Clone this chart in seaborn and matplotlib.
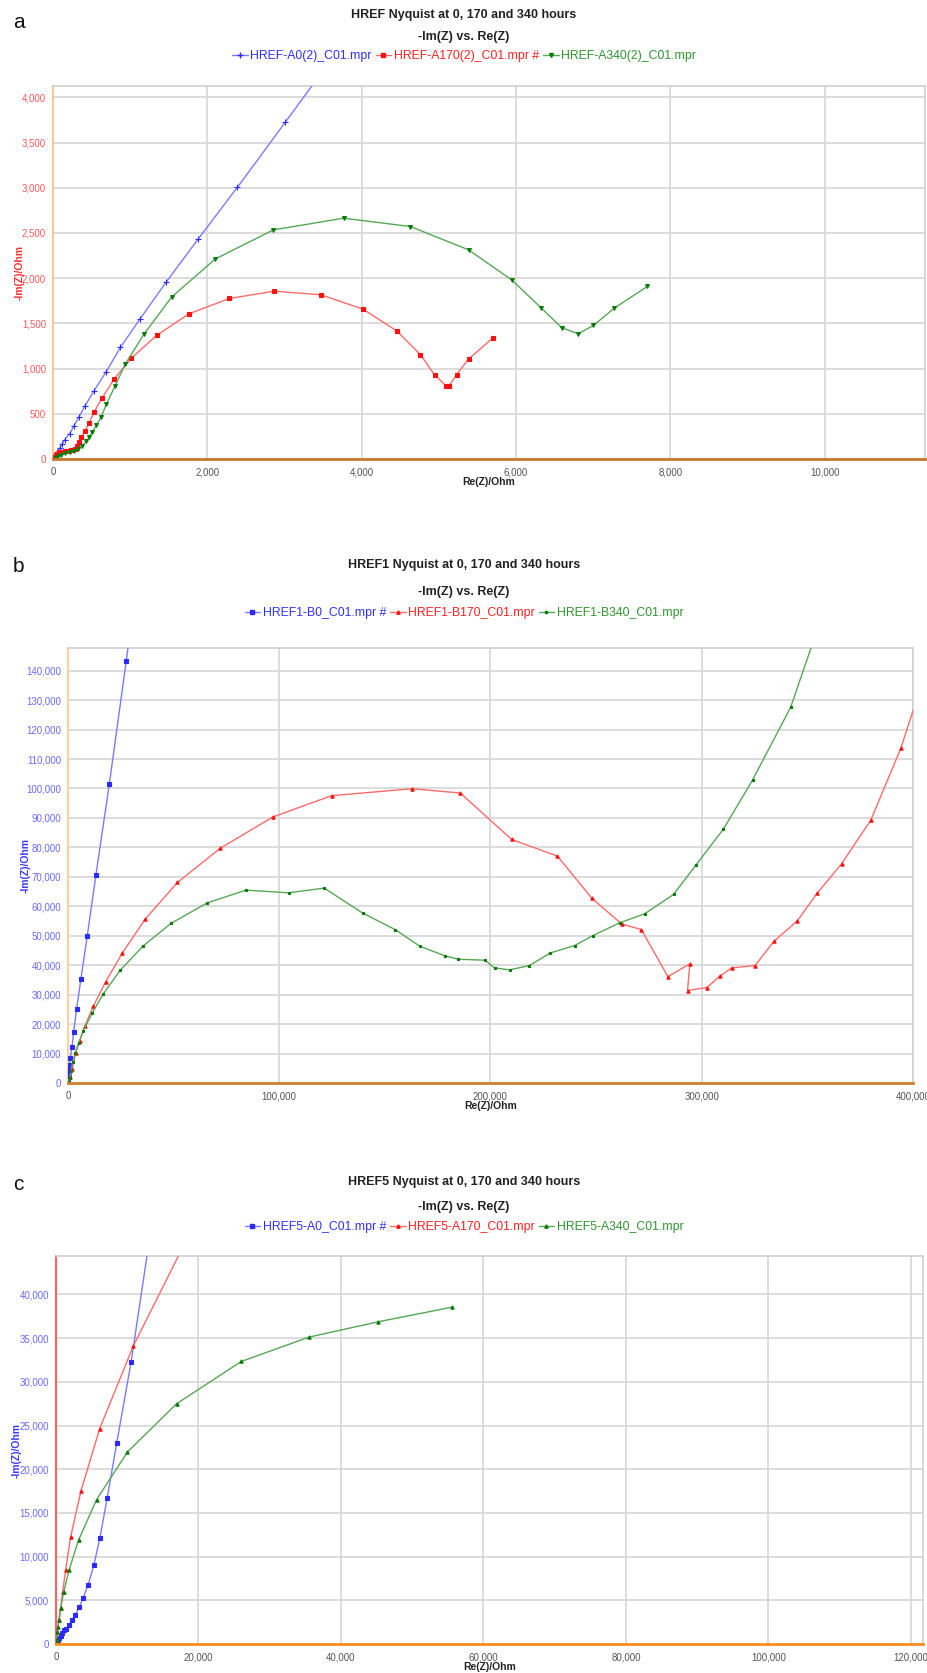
import matplotlib
matplotlib.use("Agg")
import matplotlib.pyplot as plt
from matplotlib.lines import Line2D
from matplotlib.ticker import FuncFormatter, MultipleLocator
import seaborn as sns
import pandas as pd

# ---------------- data ----------------
# Panel a
a_blue_re = [22, 52, 87, 121, 152, 216, 268, 333, 416, 532, 684, 874, 1126, 1463, 1879, 2390, 3009, 3650]
a_blue_im = [29, 77, 122, 169, 214, 280, 361, 460, 589, 755, 958, 1234, 1547, 1952, 2431, 3005, 3723, 4470]
a_red_re = [22, 35, 52, 78, 108, 152, 195, 238, 281, 312, 338, 368, 411, 468, 532, 636, 792, 1017,
            1342, 1762, 2286, 2866, 3472, 4017, 4459, 4762, 4944, 5091, 5134, 5229, 5385, 5697]
a_red_im = [18, 44, 59, 74, 81, 88, 92, 96, 110, 140, 188, 243, 306, 398, 519, 674, 884, 1116,
            1366, 1606, 1775, 1856, 1816, 1657, 1414, 1153, 932, 810, 810, 932, 1105, 1337]
a_green_re = [35, 65, 108, 152, 216, 268, 325, 381, 433, 468, 506, 563, 623, 693, 801, 939, 1182,
              1541, 2104, 2857, 3766, 4632, 5385, 5944, 6329, 6593, 6805, 7004, 7273, 7701]
a_green_im = [11, 29, 48, 66, 77, 92, 110, 147, 195, 239, 295, 372, 464, 608, 803, 1053, 1385,
              1794, 2213, 2534, 2663, 2571, 2313, 1981, 1668, 1451, 1385, 1477, 1668, 1908]
a_labels = ["HREF-A0(2)_C01.mpr", "HREF-A170(2)_C01.mpr #", "HREF-A340(2)_C01.mpr"]

# Panel b
b_blue_re = [157, 315, 473, 788, 1103, 1890, 2678, 4095, 6143, 9135, 13230, 19530, 27563, 36000]
b_blue_im = [1133, 2606, 4305, 6005, 8498, 12236, 17335, 25266, 35463, 50079, 70699, 101404, 143209, 190000]
b_red_re = [315, 1103, 2048, 3623, 5513, 8033, 11970, 17798, 25673, 36540, 51818, 71978, 96863,
            124740, 163013, 185693, 209948, 231683, 248063, 262238, 271373, 283973, 294368,
            293265, 302400, 308700, 314213, 325238, 334215, 345240, 354533, 366188, 380048,
            394223, 403000]
b_red_im = [340, 2039, 4872, 10197, 14276, 19374, 26059, 34330, 44074, 55630, 68093, 79650, 90300,
            97551, 99930, 98457, 82709, 77044, 62655, 53931, 52118, 36143, 40448,
            31384, 32404, 36369, 39089, 39882, 48153, 55064, 64354, 74438, 89280,
            113640, 133000]
b_green_re = [315, 788, 1418, 2205, 3465, 5040, 7245, 11498, 16695, 24728, 35438, 48668, 65993,
              84263, 104423, 121275, 139545, 154823, 166478, 178448, 184748, 197348, 201915,
              209003, 218453, 228375, 239873, 248535, 261135, 272948, 286650, 297360, 310275,
              324135, 342090, 360000]
b_green_im = [340, 1813, 4079, 7138, 10197, 13596, 17788, 23793, 30251, 38295, 46453, 54157, 61182,
              65487, 64581, 66167, 57670, 52118, 46453, 43167, 42034, 41694, 39089,
              38409, 39882, 44187, 46680, 50079, 54384, 57443, 64015, 74098, 86221,
              102990, 127576, 165000]
b_labels = ["HREF1-B0_C01.mpr #", "HREF1-B170_C01.mpr", "HREF1-B340_C01.mpr"]

# Panel c
c_blue_re = [93, 186, 326, 466, 653, 886, 1166, 1445, 1818, 2238, 2704, 3263, 3823, 4522, 5315,
             6154, 7179, 8531, 10536, 13500]
c_blue_im = [114, 305, 496, 686, 953, 1258, 1640, 1716, 2135, 2707, 3317, 4194, 5300, 6787, 9037,
             12125, 16663, 23031, 32220, 48400]
c_red_re = [93, 186, 373, 653, 932, 1352, 2051, 3497, 6107, 10862, 20000]
c_red_im = [305, 1335, 2707, 4118, 5910, 8503, 12240, 17502, 24594, 34126, 49000]
c_green_re = [93, 140, 186, 280, 466, 653, 1072, 1818, 3170, 5688, 10023, 16923, 26014, 35524,
              45221, 55618]
c_green_im = [191, 572, 1335, 1945, 2783, 4080, 5910, 8427, 11897, 16510, 21963, 27492, 32334,
              35118, 36872, 38550]
c_labels = ["HREF5-A0_C01.mpr #", "HREF5-A170_C01.mpr", "HREF5-A340_C01.mpr"]

titles = ["HREF Nyquist at 0, 170 and 340 hours",
          "HREF1 Nyquist at 0, 170 and 340 hours",
          "HREF5 Nyquist at 0, 170 and 340 hours"]
subtitle = "-Im(Z) vs. Re(Z)"
panel_letters = ["a", "b", "c"]

# ---------------- style ----------------
sns.set_style("white")
FONT = ["Liberation Sans", "DejaVu Sans"]
plt.rcParams["font.family"] = FONT

W, H = 928, 1673
fig = plt.figure(figsize=(W / 100, H / 100), dpi=100)


def fx(px):
    return px / W


def fy(py):
    return 1 - py / H


LINE_COL = {"blue": "#7b7bff", "red": "#ff6a6a", "green": "#55a855"}
MARK_COL = {"blue": "#2a2aff", "red": "#ff1010", "green": "#0a7a0a"}
TEXT_COL = {"blue": "#3030ff", "red": "#ff2020", "green": "#2e952e"}

panels = [
    dict(box=(53, 86, 925, 459), xlim=11300, ylim=4125, xmaj=2000, xmin=400, ymaj=500, ymin=100,
         series=[(a_blue_re, a_blue_im, "blue", "+", 4.5),
                 (a_red_re, a_red_im, "red", "s", 3.2),
                 (a_green_re, a_green_im, "green", "v", 2.8)],
         labels=a_labels, ycol="#ff5a5a", ylabcol="#ff3030", lspine="#ffc890", minorcol="#ff9a60",
         title_y=15, sub_y=37, leg_y=56, letter_y=23, ylab_x=20, xlab_y=482, bspine="#c8782a"),
    dict(box=(68, 648, 913, 1083), xlim=400000, ylim=147700, xmaj=100000, xmin=20000, ymaj=10000, ymin=2000,
         series=[(b_blue_re, b_blue_im, "blue", "s", 3.2),
                 (b_red_re, b_red_im, "red", "^", 2.4),
                 (b_green_re, b_green_im, "green", "s", 2.0)],
         labels=b_labels, ycol="#6a6aff", ylabcol="#3a3aff", lspine="#ffcfa0", minorcol="#5a5aff",
         title_y=565, sub_y=592, leg_y=613, letter_y=566, ylab_x=26, xlab_y=1106, bspine="#d08030"),
    dict(box=(56, 1256, 923, 1644), xlim=121700, ylim=44400, xmaj=20000, xmin=4000, ymaj=5000, ymin=1000,
         series=[(c_blue_re, c_blue_im, "blue", "s", 3.2),
                 (c_red_re, c_red_im, "red", "^", 2.4),
                 (c_green_re, c_green_im, "green", "^", 2.4)],
         labels=c_labels, ycol="#6a6aff", ylabcol="#3a3aff", lspine="#ff6060", minorcol="#5a5aff",
         title_y=1182, sub_y=1207, leg_y=1227, letter_y=1184, ylab_x=17, xlab_y=1667, bspine="#ff8c20"),
]

fmt = FuncFormatter(lambda v, p: f"{v:,.0f}")

for i, P in enumerate(panels):
    x0, y0, x1, y1 = P["box"]
    ax = fig.add_axes([fx(x0), fy(y1), fx(x1 - x0), (y1 - y0) / H])
    handles = []
    for (re_, im_, cname, mk, ms), lab in zip(P["series"], P["labels"]):
        df = pd.DataFrame({"re": re_, "im": im_})
        sns.lineplot(data=df, x="re", y="im", ax=ax, sort=False, estimator=None,
                     color=LINE_COL[cname], linewidth=1.0, marker=mk, markersize=ms,
                     markerfacecolor=MARK_COL[cname], markeredgecolor=MARK_COL[cname],
                     markeredgewidth=0.8, legend=False, zorder=3, clip_on=True)
        handles.append(Line2D([], [], color=LINE_COL[cname], lw=1.0, marker=mk, markersize=ms,
                              markerfacecolor=MARK_COL[cname], markeredgecolor=MARK_COL[cname],
                              label=lab))
    ax.set_xlim(0, P["xlim"])
    ax.set_ylim(0, P["ylim"])
    ax.xaxis.set_major_locator(MultipleLocator(P["xmaj"]))
    ax.xaxis.set_minor_locator(MultipleLocator(P["xmin"]))
    ax.yaxis.set_major_locator(MultipleLocator(P["ymaj"]))
    ax.yaxis.set_minor_locator(MultipleLocator(P["ymin"]))
    ax.xaxis.set_major_formatter(fmt)
    ax.yaxis.set_major_formatter(fmt)
    ax.grid(True, which="major", color="#d9d9d9", linewidth=1.3, zorder=0)
    ax.set_axisbelow(True)
    ax.tick_params(axis="x", which="major", length=4, width=0.8, color="#666666",
                   labelsize=7, labelcolor="#555555", pad=2, direction="out")
    ax.tick_params(axis="x", which="minor", length=2.5, width=0.8, color="#666666", direction="out")
    ax.tick_params(axis="y", which="major", length=3, width=0.8, color=P["minorcol"],
                   labelsize=7, labelcolor=P["ycol"], pad=2, direction="out")
    ax.tick_params(axis="y", which="minor", length=2, width=0.8, color=P["minorcol"], direction="out")
    for s in ("top", "right"):
        ax.spines[s].set_color("#d0d0d0")
        ax.spines[s].set_linewidth(1.2)
    ax.spines["left"].set_color(P["lspine"])
    ax.spines["left"].set_linewidth(1.5)
    ax.spines["bottom"].set_color(P["bspine"])
    ax.spines["bottom"].set_linewidth(2.0)
    ax.spines["bottom"].set_zorder(4)
    ax.set_xlabel("")
    ax.set_ylabel("")

    cx = (x0 + x1) / 2
    fig.text(fx(P["ylab_x"]), fy((y0 + y1) / 2), "-Im(Z)/Ohm", rotation=90, ha="center", va="center",
             fontsize=7.5, fontweight="bold", color=P["ylabcol"])
    fig.text(fx(cx), fy(P["xlab_y"]), "Re(Z)/Ohm", ha="center", va="center",
             fontsize=7.5, fontweight="bold", color="#222222")
    fig.text(fx(464), fy(P["title_y"]), titles[i], ha="center", va="center",
             fontsize=9, fontweight="bold", color="#222222")
    fig.text(fx(464), fy(P["sub_y"]), subtitle, ha="center", va="center",
             fontsize=9, fontweight="bold", color="#222222")
    fig.text(fx(13), fy(P["letter_y"]), panel_letters[i], ha="left", va="center",
             fontsize=15, color="#111111")
    fig.legend(handles=handles, loc="center", bbox_to_anchor=(0.5, fy(P["leg_y"])),
               ncol=3, frameon=False, fontsize=8.8, handlelength=1.3, handletextpad=0.2,
               columnspacing=0.3, borderpad=0.0,
               labelcolor=[TEXT_COL["blue"], TEXT_COL["red"], TEXT_COL["green"]])

fig.savefig("out.png", dpi=100)
